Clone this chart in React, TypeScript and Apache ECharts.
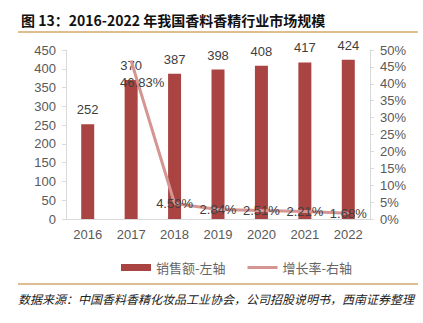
import React, { useEffect, useRef } from "react";
import * as echarts from "echarts";

const years = ["2016", "2017", "2018", "2019", "2020", "2021", "2022"];
const sales = [252, 370, 387, 398, 408, 417, 424];
const growth: (number | null)[] = [null, 46.83, 4.59, 2.84, 2.51, 2.21, 1.68];
const leftTicks = { min: 0, max: 450, interval: 50 };
const rightTicks = { min: 0, max: 50, interval: 5 };

const titleText = "图 13：2016-2022 年我国香料香精行业市场规模";
const sourceText = "数据来源：中国香料香精化妆品工业协会，公司招股说明书，西南证券整理";

export default function App() {
  const ref = useRef<HTMLDivElement>(null);
  useEffect(() => {
    const chart = echarts.init(ref.current!, null, { renderer: "svg" });
    const font = "Liberation Sans, Arial, Noto Sans CJK SC, sans-serif";
    const lineData = growth.map((v, i) =>
      i === 1
        ? { value: v, label: { offset: [11, 22] } }
        : { value: v }
    );
    chart.setOption({
      animation: false,
      textStyle: { fontFamily: font },
      title: {
        text: titleText,
        left: 16,
        top: 8,
        textStyle: { fontSize: 14, fontWeight: "bold", color: "#111", fontFamily: "Noto Sans CJK SC, sans-serif" },
      },
      graphic: [
        { type: "line", shape: { x1: 18, y1: 32, x2: 418, y2: 32 }, style: { stroke: "#d6a66c", lineWidth: 1.5 } },
        { type: "line", shape: { x1: 18, y1: 284, x2: 418, y2: 284 }, style: { stroke: "#d6a66c", lineWidth: 1.5 } },
        {
          type: "text",
          left: 18,
          top: 292,
          style: { text: sourceText, fontSize: 12, fontStyle: "italic", fill: "#222", fontFamily: "Noto Sans CJK SC, sans-serif" },
        },
      ],
      legend: {
        top: 256,
        left: 116,
        itemWidth: 30,
        itemHeight: 7,
        itemGap: 22,
        textStyle: { fontSize: 13, color: "#666", fontFamily: "Noto Sans CJK SC, sans-serif" },
        data: [
          { name: "销售额-左轴", icon: "rect" },
          { name: "增长率-右轴", icon: "path://M0,0h30v3h-30z" },
        ],
      },
      grid: { left: 66, right: 53, top: 50, bottom: 104 },
      xAxis: {
        type: "category",
        data: years,
        axisLine: { lineStyle: { color: "#d9d9d9" } },
        axisTick: { show: false },
        axisLabel: { fontSize: 13, color: "#595959", margin: 9 },
      },
      yAxis: [
        {
          type: "value",
          ...leftTicks,
          splitLine: { show: false },
          axisLine: { show: true, lineStyle: { color: "#d9d9d9" } },
          axisTick: { show: true, length: 4, lineStyle: { color: "#d9d9d9" } },
          axisLabel: { fontSize: 13, color: "#595959", margin: 10 },
        },
        {
          type: "value",
          ...rightTicks,
          splitLine: { show: false },
          axisLine: { show: true, lineStyle: { color: "#d9d9d9" } },
          axisTick: { show: true, length: 4, lineStyle: { color: "#d9d9d9" } },
          axisLabel: { fontSize: 13, color: "#595959", margin: 10, formatter: "{value}%" },
        },
      ],
      series: [
        {
          name: "销售额-左轴",
          type: "bar",
          data: sales,
          barWidth: 13,
          itemStyle: { color: "#a94442" },
          label: { show: true, position: "top", fontSize: 13, color: "#404040", distance: 8 },
        },
        {
          name: "增长率-右轴",
          type: "line",
          yAxisIndex: 1,
          data: lineData,
          symbol: "circle",
          symbolSize: 1,
          showSymbol: true,
          lineStyle: { color: "#d49593", width: 3 },
          itemStyle: { color: "#d49593" },
          label: {
            show: true,
            position: "inside",
            fontSize: 13,
            color: "#404040",
            formatter: (p: any) => (p.value == null ? "" : Number(p.value).toFixed(2) + "%"),
          },
          z: 3,
        },
      ],
    });
    return () => chart.dispose();
  }, []);
  return <div ref={ref} style={{ position: "absolute", left: 0, top: 0, width: 423, height: 323 }} />;
}
